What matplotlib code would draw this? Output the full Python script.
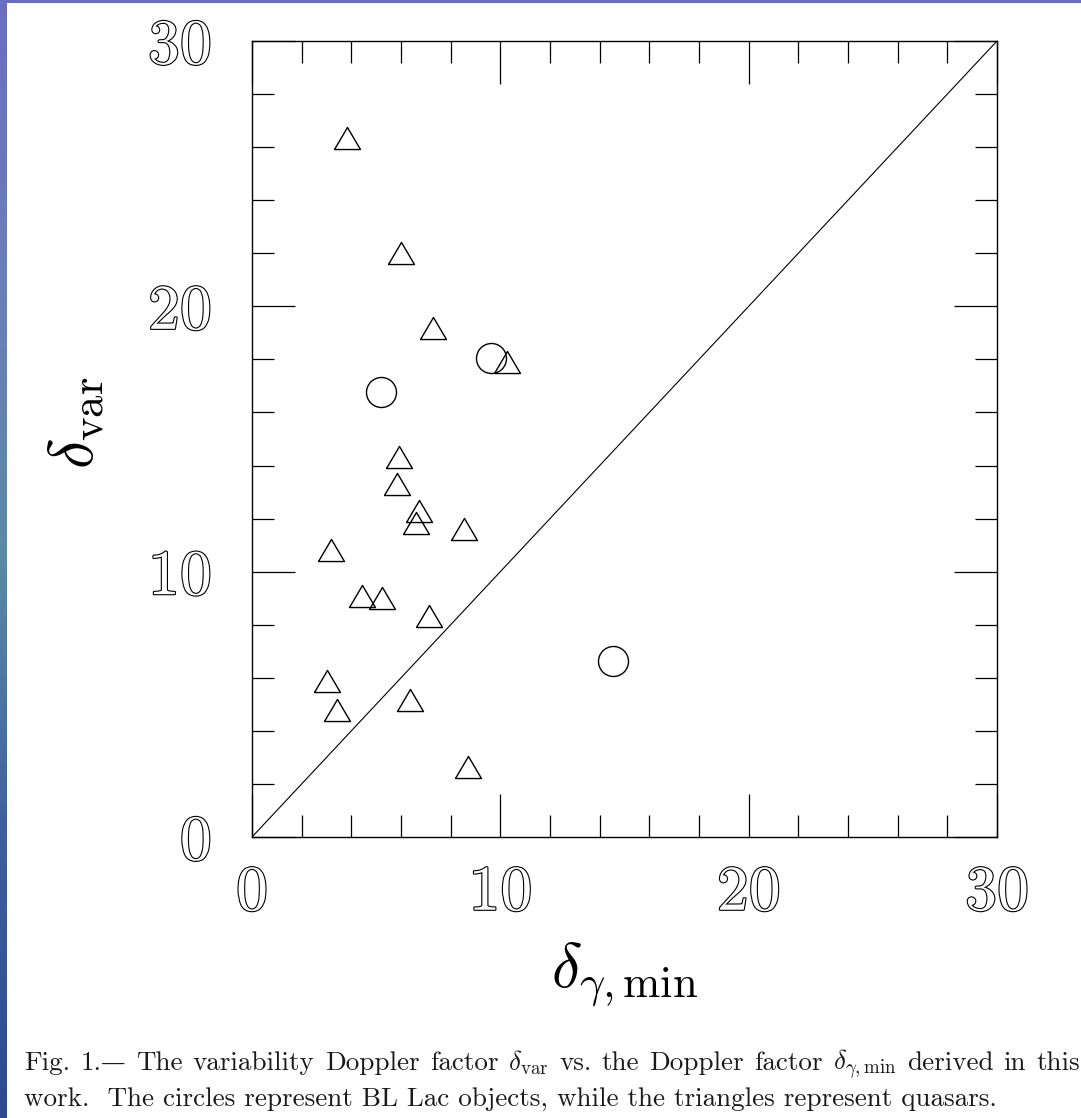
import numpy as np
import matplotlib
matplotlib.use("Agg")
import matplotlib.pyplot as plt
import matplotlib.patheffects as pe
from matplotlib.colors import LinearSegmentedColormap
from matplotlib.ticker import MultipleLocator

# --------------------------------------------------------------------------- #
# Data
# --------------------------------------------------------------------------- #
# quasars (triangles)
quasar_dgamma = [3.83, 5.99, 7.28, 10.26, 5.92, 5.85, 6.73, 6.60, 8.54,
                 3.18, 4.42, 5.22, 7.13, 3.03, 6.36, 3.44, 8.71]
quasar_dvar   = [26.35, 22.0, 19.17, 17.9, 14.33, 13.32, 12.29, 11.84, 11.59,
                 10.82, 9.08, 8.99, 8.33, 5.88, 5.16, 4.79, 2.64]
# BL Lac objects (circles)
bllac_dgamma = [5.18, 9.62, 14.53]
bllac_dvar   = [16.77, 18.05, 6.64]

equality_line = [0, 30]
axis_limits   = (0, 30)

# caption: first line is justified (TeX style), second line is natural width
caption_words_1 = ["Fig.", "1.—", "The", "variability", "Doppler", "factor",
                   r"$\delta_{\rm var}$", "vs.", "the", "Doppler", "factor",
                   r"$\delta_{\gamma,{\rm min}}$", "derived", "in", "this"]
caption_line_2 = "work.  The circles represent BL Lac objects, while the triangles represent quasars."

plt.rcParams["font.family"] = ["cmr10", "DejaVu Serif"]
plt.rcParams["mathtext.fontset"] = "cm"
plt.rcParams["axes.unicode_minus"] = False

W, H = 1081, 1118
fig = plt.figure(figsize=(W / 100, H / 100), dpi=100)

# slide background: blue gradient strip on the left/top, white page
bg = fig.add_axes([0, 0, 1, 1], zorder=-10)
bg_cmap = LinearSegmentedColormap.from_list(
    "slide", ["#2c4a8c", "#3d5f9e", "#5a8aa6", "#6a7fb8", "#6a6ec0"])
bg.imshow(np.linspace(0, 1, 256)[:, None], aspect="auto", cmap=bg_cmap,
          origin="lower", extent=[0, 1, 0, 1])
bg.add_patch(plt.Rectangle((7 / W, 0), 1, 1 - 3 / H, color="white", lw=0))
bg.set_xlim(0, 1)
bg.set_ylim(0, 1)
bg.axis("off")

# --------------------------------------------------------------------------- #
# Plot
# --------------------------------------------------------------------------- #
ax = fig.add_axes([252 / W, 1 - 837 / H, 745 / W, 796 / H])

tri = [(-1, -0.85), (1, -0.85), (0, 0.85), (-1, -0.85)]
ax.plot(equality_line, equality_line, color="black", lw=0.8)
ax.plot(quasar_dgamma, quasar_dvar, ls="none", marker=tri, ms=18.7,
        mfc="none", mec="black", mew=1.0)
ax.plot(bllac_dgamma, bllac_dvar, ls="none", marker="o", ms=21.6,
        mfc="none", mec="black", mew=1.0)

ax.set_xlim(*axis_limits)
ax.set_ylim(*axis_limits)
ax.xaxis.set_major_locator(MultipleLocator(10))
ax.yaxis.set_major_locator(MultipleLocator(10))
ax.xaxis.set_minor_locator(MultipleLocator(2))
ax.yaxis.set_minor_locator(MultipleLocator(2))
ax.tick_params(which="both", direction="in", top=True, right=True,
               width=0.9, color="black")
ax.tick_params(which="major", length=31, labelsize=46)
ax.tick_params(which="minor", length=16)
ax.tick_params(axis="x", which="major", pad=20)
ax.tick_params(axis="y", which="major", pad=29)
for s in ax.spines.values():
    s.set_linewidth(1.0)

# hollow, outlined digits like the original plotting package
outline = [pe.Stroke(linewidth=1.6, foreground="black"), pe.Normal()]
for lab in ax.get_xticklabels() + ax.get_yticklabels():
    lab.set_color("white")
    lab.set_path_effects(outline)

ax.set_xlabel(r"$\delta_{\gamma,{\rm min}}$", fontsize=46)
ax.set_ylabel(r"$\delta_{\rm var}$", fontsize=46)
ax.xaxis.set_label_coords(0.5, -0.13)
ax.yaxis.set_label_coords(-0.195, 0.52)

# --------------------------------------------------------------------------- #
# Caption
# --------------------------------------------------------------------------- #
cap_size = 19.5
cap_color = "#1a1a1a"
x_left, x_right = 24, 1080
base1, base2 = 1070, 1106

renderer = fig.canvas.get_renderer()


def make_word(word):
    # cmr10 has no usable em dash, so that glyph comes from DejaVu Serif
    parts = word.split("—")
    segs = []
    for i, p in enumerate(parts):
        if p:
            segs.append(fig.text(0, 0, p, fontsize=cap_size, color=cap_color,
                                 va="baseline", ha="left"))
        if i < len(parts) - 1:
            segs.append(fig.text(0, 0, "—", fontsize=cap_size * 0.9,
                                 color=cap_color, va="baseline", ha="left",
                                 family="DejaVu Serif"))
    widths = [t.get_window_extent(renderer).width for t in segs]
    return segs, widths


words = [make_word(w) for w in caption_words_1]
total = sum(sum(ws) for _, ws in words)
gap = (x_right - x_left - total) / (len(words) - 1)
x = x_left
for segs, ws in words:
    for t, w in zip(segs, ws):
        t.set_position((x / W, 1 - base1 / H))
        x += w
    x += gap

fig.text(x_left / W, 1 - base2 / H, caption_line_2, fontsize=cap_size,
         color=cap_color, va="baseline", ha="left")

fig.savefig("out.png", dpi=100)
